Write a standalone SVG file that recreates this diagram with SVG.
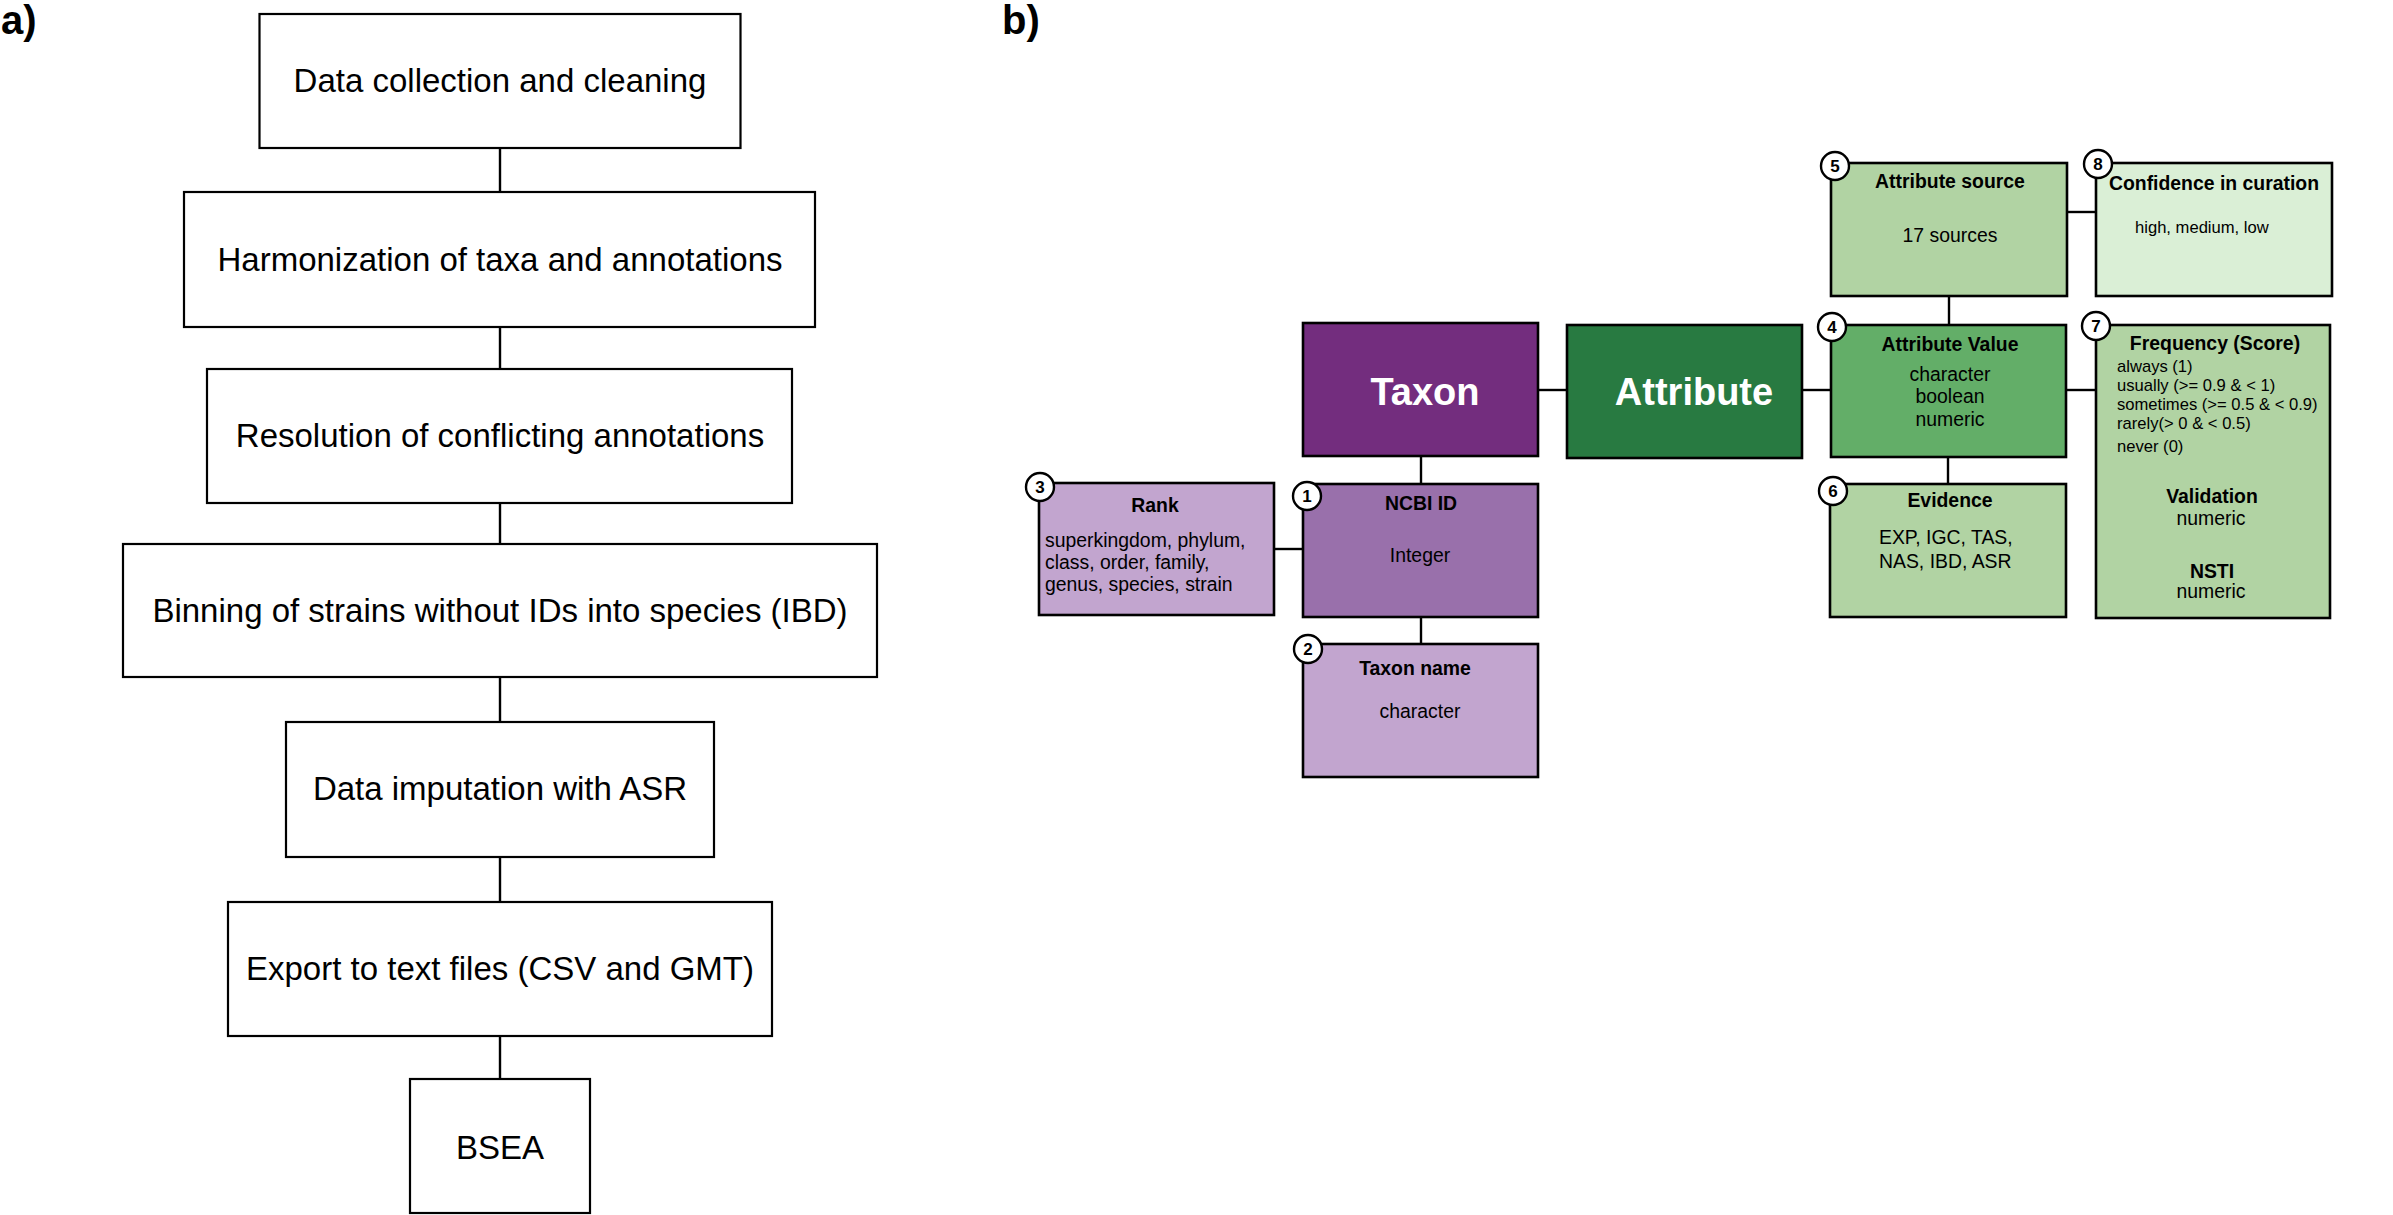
<svg xmlns="http://www.w3.org/2000/svg" width="2393" height="1215" viewBox="0 0 2393 1215">
<style>
text{font-family:"Liberation Sans",Arial,sans-serif;fill:#000}
.a rect{fill:#fff;stroke:#000;stroke-width:2.2}
.a text{font-size:33px;text-anchor:middle}
.b rect{stroke:#000;stroke-width:2.6}
.lbl{font-size:40px;font-weight:bold}
.big{font-size:38px;font-weight:bold;fill:#fff;text-anchor:middle}
.h{font-size:19.4px;font-weight:bold;text-anchor:middle}
.t{font-size:19.4px;text-anchor:middle}
.s{font-size:16.6px}
.num circle{fill:#fff;stroke:#000;stroke-width:2.4}
.num text{font-size:17px;font-weight:bold;text-anchor:middle}
.conn line{stroke:#000;stroke-width:2.4}
</style>
<text class="lbl" x="1" y="34">a)</text>
<text class="lbl" x="1002" y="34">b)</text>
<g class="conn">
<line x1="500" y1="148" x2="500" y2="192"/>
<line x1="500" y1="327" x2="500" y2="369"/>
<line x1="500" y1="503" x2="500" y2="544"/>
<line x1="500" y1="677" x2="500" y2="722"/>
<line x1="500" y1="857" x2="500" y2="902"/>
<line x1="500" y1="1036" x2="500" y2="1079"/>
<line x1="1538" y1="390" x2="1567" y2="390"/>
<line x1="1421" y1="456" x2="1421" y2="484"/>
<line x1="1274" y1="549" x2="1303" y2="549"/>
<line x1="1421" y1="617" x2="1421" y2="644"/>
<line x1="1802" y1="390" x2="1831" y2="390"/>
<line x1="2066" y1="390" x2="2096" y2="390"/>
<line x1="1949" y1="296" x2="1949" y2="325"/>
<line x1="2067" y1="212" x2="2096" y2="212"/>
<line x1="1948" y1="457" x2="1948" y2="484"/>
</g>
<g class="a">
<g id="a1"><rect x="259.5" y="14" width="481" height="134"/><text x="500" y="92">Data collection and cleaning</text></g>
<g id="a2"><rect x="184" y="192" width="631" height="135"/><text x="500" y="271">Harmonization of taxa and annotations</text></g>
<g id="a3"><rect x="207" y="369" width="585" height="134"/><text x="500" y="447">Resolution of conflicting annotations</text></g>
<g id="a4"><rect x="123" y="544" width="754" height="133"/><text x="500" y="622">Binning of strains without IDs into species (IBD)</text></g>
<g id="a5"><rect x="286" y="722" width="428" height="135"/><text x="500" y="800">Data imputation with ASR</text></g>
<g id="a6"><rect x="228" y="902" width="544" height="134"/><text x="500" y="980">Export to text files (CSV and GMT)</text></g>
<g id="a7"><rect x="410" y="1079" width="180" height="134"/><text x="500" y="1159">BSEA</text></g>
</g>
<g class="b">
<g id="taxon"><rect x="1303" y="323" width="235" height="133" fill="#732d7e"/><text class="big" x="1425" y="405">Taxon</text></g>
<g id="attribute"><rect x="1567" y="325" width="235" height="133" fill="#287a41"/><text class="big" x="1694" y="405">Attribute</text></g>
<g id="ncbi"><rect x="1303" y="484" width="235" height="133" fill="#9970ab"/><text class="h" x="1421" y="510">NCBI ID</text><text class="t" x="1420" y="562">Integer</text>
<g class="num"><circle cx="1307" cy="496" r="14"/><text x="1307" y="502">1</text></g></g>
<g id="rank"><rect x="1039" y="483" width="235" height="132" fill="#c2a5cf"/><text class="h" x="1155" y="512">Rank</text>
<text class="t" style="text-anchor:start" x="1045" y="547">superkingdom, phylum,</text>
<text class="t" style="text-anchor:start" x="1045" y="569">class, order, family,</text>
<text class="t" style="text-anchor:start" x="1045" y="591">genus, species, strain</text>
<g class="num"><circle cx="1040" cy="487" r="14"/><text x="1040" y="493">3</text></g></g>
<g id="taxonname"><rect x="1303" y="644" width="235" height="133" fill="#c2a5cf"/><text class="h" x="1415" y="675">Taxon name</text><text class="t" x="1420" y="718">character</text>
<g class="num"><circle cx="1308" cy="649" r="14"/><text x="1308" y="655">2</text></g></g>
<g id="attrsource"><rect x="1831" y="163" width="236" height="133" fill="#b1d3a3"/><text class="h" x="1950" y="188">Attribute source</text><text class="t" x="1950" y="242">17 sources</text>
<g class="num"><circle cx="1835" cy="166" r="14"/><text x="1835" y="172">5</text></g></g>
<g id="confidence"><rect x="2096" y="163" width="236" height="133" fill="#daefd6"/><text class="h" x="2214" y="190">Confidence in curation</text><text class="s" x="2135" y="233">high, medium, low</text>
<g class="num"><circle cx="2098" cy="164" r="14"/><text x="2098" y="170">8</text></g></g>
<g id="attrvalue"><rect x="1831" y="325" width="235" height="132" fill="#63ae68"/><text class="h" x="1950" y="351">Attribute Value</text>
<text class="t" x="1950" y="381">character</text><text class="t" x="1950" y="403">boolean</text><text class="t" x="1950" y="426">numeric</text>
<g class="num"><circle cx="1832" cy="327" r="14"/><text x="1832" y="333">4</text></g></g>
<g id="frequency"><rect x="2096" y="325" width="234" height="293" fill="#b1d3a3"/><text class="h" x="2215" y="350">Frequency (Score)</text>
<text class="s" x="2117" y="372">always (1)</text>
<text class="s" x="2117" y="391">usually (&gt;= 0.9 &amp; &lt; 1)</text>
<text class="s" x="2117" y="410">sometimes (&gt;= 0.5 &amp; &lt; 0.9)</text>
<text class="s" x="2117" y="429">rarely(&gt; 0 &amp; &lt; 0.5)</text>
<text class="s" x="2117" y="452">never (0)</text>
<text class="h" x="2212" y="503">Validation</text><text class="t" x="2211" y="525">numeric</text>
<text class="h" x="2212" y="578">NSTI</text><text class="t" x="2211" y="598">numeric</text>
<g class="num"><circle cx="2096" cy="326" r="14"/><text x="2096" y="332">7</text></g></g>
<g id="evidence"><rect x="1830" y="484" width="236" height="133" fill="#b1d3a3"/><text class="h" x="1950" y="507">Evidence</text>
<text class="t" style="text-anchor:start" x="1879" y="544">EXP, IGC, TAS,</text>
<text class="t" style="text-anchor:start" x="1879" y="568">NAS, IBD, ASR</text>
<g class="num"><circle cx="1833" cy="491" r="14"/><text x="1833" y="497">6</text></g></g>
</g>
</svg>
